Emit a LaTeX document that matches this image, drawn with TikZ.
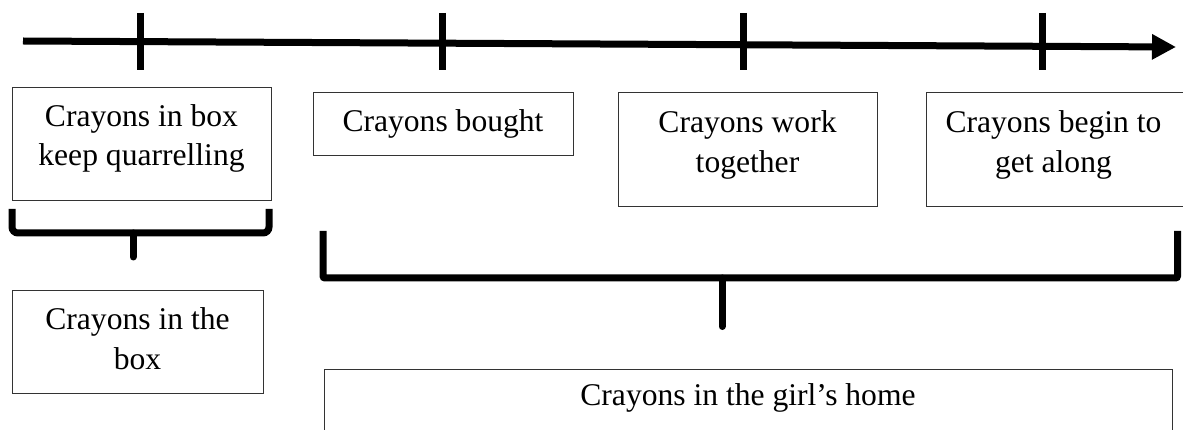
\documentclass[tikz,border=0pt]{standalone}
\usepackage{fontspec}
\setmainfont{Liberation Serif}
\usetikzlibrary{arrows.meta}
\tikzset{
  box/.style={draw=black!80, line width=1pt, rectangle, inner sep=0pt},
  txt/.style={inner sep=0pt, align=center, font=\fontsize{31.6}{39.5}\selectfont},
  thick line/.style={line width=7pt, black},
  bracket/.style={line width=7pt, black, rounded corners=6pt},
  stem/.style={line width=7pt, black, line cap=round}
}
\begin{document}
\begin{tikzpicture}[x=1pt, y=-1pt]
\useasboundingbox (0,0) rectangle (1183,430);
% timeline
\coordinate (tl0) at (23,41);
\coordinate (tl1) at (1176,47);
\draw[thick line, -{Triangle[length=24pt, width=24pt]}] (tl0) -- (tl1);
% ticks
\coordinate (k1a) at (140,13); \coordinate (k1b) at (140,70);
\coordinate (k2a) at (442,13); \coordinate (k2b) at (442,70);
\coordinate (k3a) at (743,13); \coordinate (k3b) at (743,70);
\coordinate (k4a) at (1042,13); \coordinate (k4b) at (1042,70);
\draw[thick line] (k1a) -- (k1b);
\draw[thick line] (k2a) -- (k2b);
\draw[thick line] (k3a) -- (k3b);
\draw[thick line] (k4a) -- (k4b);
% boxes
\node[box, minimum width=259pt, minimum height=113pt] (b1) at (141.5,144.5) {};
\node[box, minimum width=260pt, minimum height=63pt] (b2) at (443,124.5) {};
\node[box, minimum width=259pt, minimum height=114pt] (b3) at (747.5,150) {};
\node[box, minimum width=260pt, minimum height=114pt] (b4) at (1056,150) {};
\node[box, minimum width=251pt, minimum height=102pt] (b5) at (137.5,342) {};
\node[box, minimum width=848pt, minimum height=75pt] (b6) at (748,406.5) {};
% texts
\node[txt] (t1) at (141.5,138) {\strut Crayons in box\\\strut keep quarrelling};
\node[txt] (t2) at (443,123.5) {\strut Crayons bought};
\node[txt] (t3) at (747.5,144.5) {\strut Crayons work\\\strut together};
\node[txt] (t4) at (1053.5,144.5) {\strut Crayons begin to\\\strut get along};
\node[txt] (t5) at (137.5,341.5) {\strut Crayons in the\\\strut box};
\node[txt] (t6) at (748,398) {\strut Crayons in the girl’s home};
% bracket 1
\coordinate (p1a) at (12,209);
\coordinate (p1b) at (12,233);
\coordinate (p1c) at (269,233);
\coordinate (p1d) at (269,209);
\coordinate (s1a) at (133,233);
\coordinate (s1b) at (133,257);
\draw[bracket] (p1a) -- (p1b) -- (p1c) -- (p1d);
\draw[stem] (s1a) -- (s1b);
% bracket 2
\coordinate (p2a) at (323,231);
\coordinate (p2b) at (323,278);
\coordinate (p2c) at (1177.5,278);
\coordinate (p2d) at (1177.5,231);
\coordinate (s2a) at (722,278);
\coordinate (s2b) at (722,326.5);
\draw[bracket, rounded corners=2pt] (p2a) -- (p2b) -- (p2c) -- (p2d);
\draw[stem] (s2a) -- (s2b);
\end{tikzpicture}
\end{document}
